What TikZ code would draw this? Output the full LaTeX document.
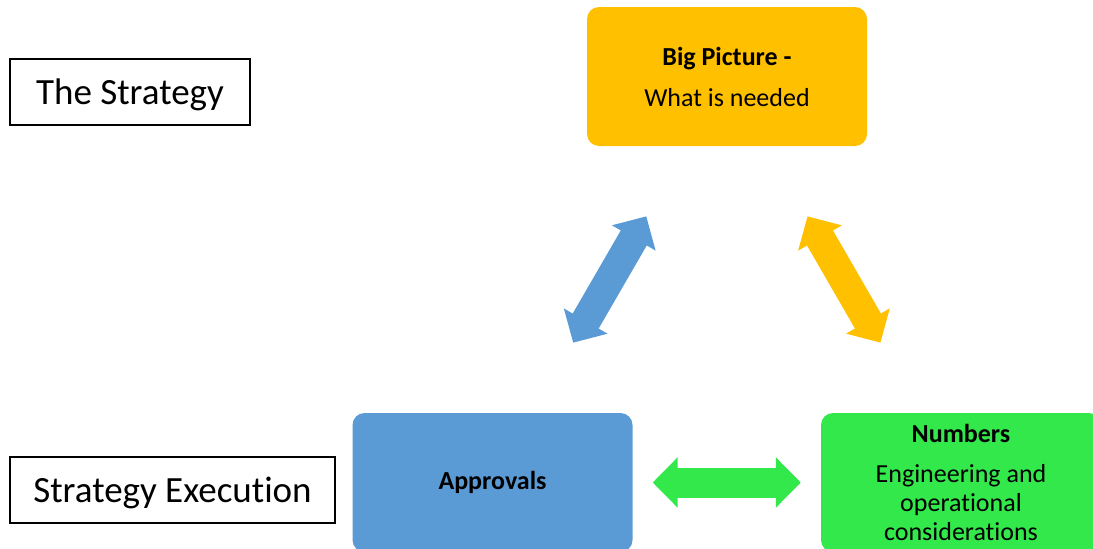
\documentclass[tikz,border=0pt]{standalone}
\usepackage{fontspec}
\setmainfont[Ligatures=NoCommon]{Carlito}
\usetikzlibrary{arrows.meta}

\definecolor{bigyellow}{HTML}{FFC000}
\definecolor{apprblue}{HTML}{5B9BD5}
\definecolor{numgreen}{HTML}{33E84B}

\tikzstyle{labelbox} = [draw=black, line width=1.5pt, rectangle, text depth=0pt,
    font=\fontsize{37}{44}\selectfont]
\tikzstyle{stepcard} = [rectangle, rounded corners=12pt, minimum width=280pt,
    minimum height=139pt, align=center, font=\fontsize{26}{29}\selectfont]
\tikzstyle{fatarrow} = [line width=30pt, <->, >={Triangle[length=25pt,width=49pt]},
    shorten <=81pt, shorten >=81pt]

\begin{document}
\begin{tikzpicture}[x=1pt,y=-1pt]
\useasboundingbox (0,0) rectangle (1093,549);
\clip (0,0) rectangle (1093,549);
% left hand labels
\node [labelbox, minimum width=240pt, minimum height=66pt] (strategy) at (130,92) {The Strategy};
\node [labelbox, minimum width=325pt, minimum height=66pt] (execution) at (172.5,490) {Strategy Execution};

% the three cards
\node [stepcard, fill=bigyellow] (bigpic) at (727,76.5)
    {\textbf{Big Picture -}\\[12pt] What is needed};
\node [stepcard, fill=apprblue] (approvals) at (492.5,482.5) {\textbf{Approvals}};
\node [stepcard, fill=numgreen] (numbers) at (961,482.5)
    {\textbf{Numbers}\\[11pt] Engineering and\\ operational\\ considerations};

% links between them
\draw [fatarrow, apprblue] (approvals) -- (bigpic);
\draw [fatarrow, bigyellow] (bigpic) -- (numbers);
\draw [fatarrow, numgreen, shorten <=20pt, shorten >=20pt] (approvals) -- (numbers);
\end{tikzpicture}
\end{document}
